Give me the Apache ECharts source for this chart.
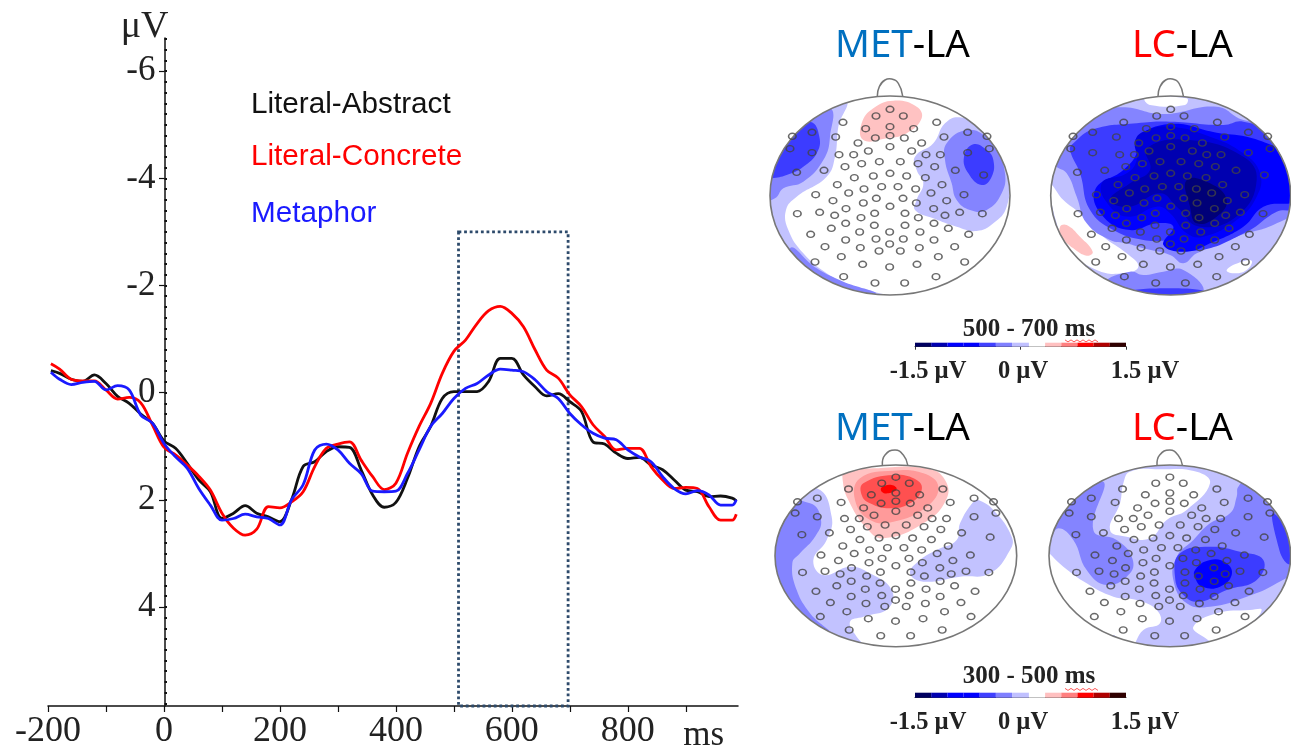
<!DOCTYPE html>
<html>
<head>
<meta charset="utf-8">
<style>html,body{margin:0;padding:0;background:#fff}#c{width:1291px;height:746px}</style>
<script src="https://cdn.jsdelivr.net/npm/echarts@6/dist/echarts.min.js"></script>
</head>
<body>
<div id="c"></div>
<script>
// ---------- ERP waveforms (ms, µV; negative up) ----------
const timeMs = [-195,-180,-160,-140,-120,-100,-80,-60,-40,-20,0,20,40,60,80,100,120,140,160,180,200,220,240,260,280,300,320,340,
  360,380,400,420,440,460,480,500,520,540,560,580,600,620,640,660,680,700,720,740,760,780,800,820,840,860,880,900,920,940,960,980,987];
const literalAbstract = [-0.41,-0.36,-0.25,-0.21,-0.33,-0.17,0.07,0.20,0.40,0.57,0.90,1.04,1.32,1.63,1.85,2.35,2.25,2.11,2.25,2.32,2.41,2.00,1.38,1.29,1.10,1.01,1.02,1.44,
  1.91,2.14,2.05,1.60,1.01,0.63,0.11,-0.02,-0.02,-0.02,-0.21,-0.64,-0.64,-0.33,-0.11,0.06,0.02,0.17,0.35,0.92,0.96,1.13,1.23,1.21,1.35,1.44,1.63,1.82,1.85,1.94,1.93,1.97,2.02];
const literalConcrete = [-0.54,-0.44,-0.25,-0.22,-0.22,-0.05,0.12,0.09,0.19,0.60,1.02,1.16,1.35,1.56,1.82,2.25,2.53,2.66,2.55,2.13,2.15,2.04,1.85,1.38,1.04,0.96,0.92,1.26,
  1.57,1.81,1.69,1.13,0.63,0.20,-0.36,-0.77,-0.98,-1.29,-1.53,-1.61,-1.48,-1.23,-0.80,-0.42,-0.27,0.04,0.26,0.60,0.82,1.07,1.04,1.04,1.38,1.63,1.79,1.77,1.79,2.13,2.38,2.38,2.27];
const metaphor = [-0.38,-0.25,-0.15,-0.19,-0.21,-0.05,-0.13,-0.05,0.42,0.57,0.95,1.20,1.41,1.79,2.10,2.38,2.35,2.27,2.32,2.35,2.47,2.00,1.72,1.07,0.96,1.07,1.32,1.51,
  1.84,1.85,1.84,1.51,1.07,0.63,0.39,0.11,-0.08,-0.17,-0.33,-0.44,-0.42,-0.39,-0.24,-0.02,0.11,0.39,0.60,0.76,0.85,0.88,1.07,1.20,1.29,1.57,1.79,1.89,1.83,1.91,2.10,2.10,2.00];
const windowMs = [508, 697];
const windowUv = [-3, 5.85];
const xLabelTicks = [-200,0,200,400,600,800];
const xAllTicks = [-200,-100,0,100,200,300,400,500,600,700,800,900];
const yLabelTicks = [-6,-4,-2,0,2,4];

// ---------- Topographic maps: electrode sites and contour bands (map-space units) ----------
const electrodes = [[390,298],[348,318],[430,318],[249,337],[530,337],[317,356],[390,350],[461,356],[346,384],[390,377],[433,384],[227,381],[552,381],[97,379],[156,367],[623,367],[681,379],[294,399],[485,399],[390,410],[325,423],[455,423],[90,416],[156,428],[623,428],[688,416],[237,434],[281,434],[498,434],[541,434],[255,470],[305,461],[358,455],[421,455],[474,461],[524,470],[110,487],[192,481],[586,481],[671,495],[283,503],[340,498],[390,490],[440,498],[496,503],[232,524],[312,537],[365,530],[414,530],[467,537],[546,524],[167,554],[266,549],[513,549],[612,554],[219,572],[310,579],[349,565],[429,565],[469,579],[560,572],[112,611],[179,607],[258,596],[390,589],[521,596],[599,607],[667,611],[224,616],[344,610],[435,610],[555,616],[303,623],[475,623],[257,640],[343,646],[435,646],[522,640],[214,655],[565,655],[152,673],[299,666],[389,666],[480,666],[626,673],[257,690],[348,687],[430,687],[522,690],[389,702],[195,710],[301,713],[357,723],[421,723],[478,713],[584,710],[244,740],[535,740],[165,756],[614,756],[308,763],[471,763],[389,771],[251,800],[528,800],[345,819],[434,819]];

const C = {L:'#c2c2ff',M:'#8484ff',B:'#3c3cff',S:'#0000ff',D:'#0000dc',N:'#0000b0',X:'#000078',W:'#ffffff',
           p:'#ffc2c2',q:'#ff9a9a',r:'#ff5050',s:'#ff0000'};

const bandsMetLate = [
  [C.L,[[254,270],[0,270],[0,860],[390,860],[340,845],[270,825],[200,790],[130,730],[85,660],[78,600],[110,560],[200,500],[225,440],[235,350]]],
  [C.M,[[205,290],[0,290],[0,570],[45,565],[70,535],[130,515],[190,450],[210,380]]],
  [C.M,[[90,715],[170,775],[250,815],[345,852],[100,870]]],
  [C.B,[[150,335],[178,380],[170,430],[130,470],[80,495],[35,505],[0,505],[0,335]]],
  [C.L,[[600,322],[555,340],[520,400],[465,440],[470,480],[490,520],[470,570],[465,600],[520,625],[590,650],[650,663],[700,640],[740,590],[745,500],[720,420],[660,350]]],
  [C.M,[[620,360],[560,400],[555,450],[575,520],[590,570],[630,600],[680,600],[725,550],[735,490],[710,420],[680,380]]],
  [C.B,[[640,403],[612,440],[625,490],[665,525],[695,500],[700,450],[680,420]]],
  [C.p,[[400,272],[340,295],[305,340],[310,390],[380,385],[440,370],[485,325],[470,290]]]
];
const bandsLcLate = [
  [C.L,[[40,240],[800,240],[800,870],[40,870]]],
  [C.W,[[345,265],[470,265],[465,285],[360,285]]],
  [C.W,[[62,525],[100,570],[150,610],[220,680],[290,730],[325,770],[280,790],[200,780],[120,720],[80,640]]],
  [C.W,[[590,780],[630,757],[665,752],[650,780],[610,790]]],
  [C.p,[[90,650],[110,645],[150,680],[188,725],[170,737],[130,715],[95,680]]],
  [C.M,[[50,400],[140,320],[270,292],[400,312],[560,290],[640,330],[800,360],[800,590],[740,640],[620,680],[500,730],[460,760],[420,735],[340,715],[290,700],[240,690],[170,640],[140,560],[110,490],[75,465]]],
  [C.M,[[230,815],[300,785],[340,795],[400,785],[460,780],[520,845],[420,870],[300,850]]],
  [C.B,[[300,845],[420,835],[520,845],[420,870]]],
  [C.B,[[120,420],[130,400],[190,358],[320,340],[420,335],[580,345],[640,335],[800,395],[800,590],[740,605],[650,665],[500,722],[430,695],[340,690],[250,660],[180,600],[150,490]]],
  [C.S,[[320,385],[420,342],[560,368],[650,380],[740,410],[800,430],[800,565],[700,590],[640,650],[540,700],[470,725],[400,705],[430,650],[380,640],[300,660],[220,620],[195,540],[280,480],[320,430]]],
  [C.D,[[315,395],[340,365],[420,350],[540,380],[640,430],[690,490],[680,560],[620,630],[520,680],[470,670],[420,610],[380,590],[300,620],[240,590],[215,520],[290,490],[320,450]]],
  [C.N,[[350,415],[480,390],[640,440],[680,510],[625,615],[510,650],[440,590],[390,550],[300,590],[240,570],[300,520],[360,480]]],
  [C.X,[[470,510],[540,520],[590,570],[560,620],[500,640],[480,590]]]
];
const bandsMetEarly = [
  [C.L,[[170,265],[0,265],[0,760],[330,760],[290,710],[270,665],[310,650],[385,625],[395,570],[330,520],[270,500],[190,525],[160,480],[200,420],[215,350]]],
  [C.M,[[150,310],[183,360],[165,410],[120,460],[97,490],[110,570],[150,640],[210,710],[0,740],[0,305]]],
  [C.L,[[640,305],[600,370],[590,420],[530,450],[480,480],[450,520],[490,545],[600,530],[690,520],[750,450],[755,410],[700,330],[655,300]]],
  [C.p,[[255,215],[340,205],[500,205],[555,240],[558,300],[490,370],[370,415],[320,385],[265,300],[248,240]]],
  [C.q,[[300,235],[400,212],[490,220],[535,260],[500,320],[400,365],[330,360],[285,300]]],
  [C.r,[[310,250],[400,225],[470,240],[485,270],[450,310],[390,325],[330,310],[305,285]]],
  [C.s,[[365,262],[395,255],[410,268],[385,280],[365,275]]]
];
const bandsLcEarly = [
  [C.L,[[40,180],[800,180],[800,760],[40,760]]],
  [C.W,[[300,215],[390,208],[500,215],[540,250],[470,330],[410,360],[360,415],[290,410],[240,390],[270,310],[280,250]]],
  [C.W,[[40,450],[100,500],[170,550],[250,590],[320,600],[380,630],[390,670],[340,690],[300,740],[240,720],[130,650],[70,540]]],
  [C.W,[[490,680],[560,640],[660,630],[695,630],[650,680],[560,725],[520,710]]],
  [C.M,[[220,245],[100,330],[60,420],[85,385],[130,420],[170,510],[230,555],[300,520],[305,470],[260,420],[190,390]]],
  [C.M,[[620,290],[600,340],[540,370],[490,420],[440,470],[430,540],[470,610],[540,620],[650,590],[740,550],[800,500],[800,400],[770,300],[660,235],[625,260]]],
  [C.M,[[250,705],[300,735],[400,745],[500,735],[570,725],[480,760],[350,760]]],
  [C.B,[[730,340],[800,440],[800,480],[770,490],[740,420]]],
  [C.B,[[450,460],[540,440],[630,455],[700,480],[680,540],[590,570],[510,605],[460,585],[435,530]]],
  [C.S,[[495,510],[540,480],[590,490],[605,525],[570,560],[520,562],[498,540]]]
];
const noseLate = [[352,258],[358,230],[375,210],[395,207],[415,220],[428,258]];
const noseEarly = [[367,195],[375,165],[405,150],[430,165],[443,195]];

// ---------- Colour bar ----------
const barEdges = [-1.5,-1.27,-1.04,-0.81,-0.58,-0.35,-0.12,0.12,0.35,0.58,0.81,1.04,1.27,1.5];
const barColors = ['#000060','#0000b0','#0000ff','#0000ff','#4040ff','#8080ff','#c0c0ff','#ffffff','#ffc0c0','#ff8080','#ff0000','#b00000','#300000'];
const barTicks = [-1.5,0,1.5];

const serif = '"Liberation Serif","Times New Roman",serif';
const sans = '"Liberation Sans",Arial,sans-serif';
const tickInk = '#222';

const maps = [
  {left:770,  top:96,  w:240,   h:199,   cx:390,   cy:556.5, rx:360,   ry:298.5, dx:0,  bands:bandsMetLate,  nose:noseLate},
  {left:1050.7,top:96, w:240,   h:199,   cx:422,   cy:556.5, rx:360,   ry:298.5, dx:32, bands:bandsLcLate,   nose:noseLate},
  {left:775,  top:465, w:241.7, h:181.7, cx:407.5, cy:467.5, rx:362.5, ry:272.5, dx:0,  bands:bandsMetEarly, nose:noseEarly},
  {left:1049, top:465, w:241.7, h:181.7, cx:419.5, cy:467.5, rx:362.5, ry:272.5, dx:14, bands:bandsLcEarly,  nose:noseEarly}
];
const bars = [{left:915,top:342.7,w:211,h:4,ticks:3},{left:915,top:692.7,w:211,h:5,ticks:0}];

const grid = [{left:48, top:38, width:690, height:668, outerBoundsMode:'none'}];
const xAxis = [{type:'value', min:-200, max:990, gridIndex:0,
  axisLine:{onZero:false, lineStyle:{color:'#111',width:1.5}},
  axisTick:{customValues:xAllTicks, length:6, lineStyle:{color:'#111',width:1.2}},
  axisLabel:{customValues:xLabelTicks, margin:8, fontFamily:serif, fontSize:36, color:tickInk},
  splitLine:{show:false},
  name:'ms', nameLocation:'end', nameGap:-14,
  nameTextStyle:{fontFamily:serif, fontSize:35, color:tickInk, align:'right', verticalAlign:'top', padding:[12,0,0,0]}
}];
const yRange = {min:-6.62, max:5.85};
const yAxisOffset = -116.5;
const dots = []; for (let v=-6.6; v<5.85; v+=0.2) dots.push(Math.round(v*10)/10);
const yAxis = [
 {type:'value', inverse:true, ...yRange, gridIndex:0, position:'left', offset:yAxisOffset,
  axisLine:{onZero:false, lineStyle:{color:'#111',width:1.5}},
  axisTick:{customValues:yLabelTicks, length:5.5, lineStyle:{color:'#111',width:1.2}},
  axisLabel:{customValues:yLabelTicks, margin:9, fontFamily:serif, fontSize:35, color:tickInk},
  splitLine:{show:false},
  name:'\u03bcV', nameLocation:'start', nameGap:-8,
  nameTextStyle:{fontFamily:serif, fontSize:38, color:tickInk, align:'right', verticalAlign:'bottom', padding:[0,-4,0,0]}
 },
 {type:'value', inverse:true, ...yRange, gridIndex:0, position:'left', offset:yAxisOffset,
  axisLine:{show:false, onZero:false},
  axisTick:{inside:true, customValues:dots, length:2.5, lineStyle:{color:'#111',width:2}},
  axisLabel:{show:false}, splitLine:{show:false}
 }
];

const series = [
  {name:'Literal-Abstract', data:literalAbstract, color:'#111111'},
  {name:'Literal-Concrete', data:literalConcrete, color:'#ff0000'},
  {name:'Metaphor', data:metaphor, color:'#1a1aff'}
].map(s => ({
  type:'line', name:s.name, xAxisIndex:0, yAxisIndex:0, showSymbol:false, symbol:'none', smooth:0.35,
  lineStyle:{color:s.color, width:2.8}, itemStyle:{color:s.color},
  data:s.data.map((v,i)=>[timeMs[i],v]), z:3, silent:true
}));
series[0].markArea = {silent:true, itemStyle:{color:'rgba(0,0,0,0)', borderColor:'#2d4a6b', borderWidth:2.8, borderType:'dotted'},
  data:[[{xAxis:windowMs[0], yAxis:windowUv[0]},{xAxis:windowMs[1], yAxis:windowUv[1]}]]};

maps.forEach((m,i)=>{
  grid.push({left:m.left, top:m.top, width:m.w, height:m.h, outerBoundsMode:'none'});
  xAxis.push({type:'value', gridIndex:i+1, show:false, min:m.cx-m.rx, max:m.cx+m.rx});
  yAxis.push({type:'value', gridIndex:i+1, show:false, inverse:true, min:m.cy-m.ry, max:m.cy+m.ry});
  const axisIdx = i+1, yIdx = i+2;
  const rows = m.bands.map((b,k)=>[k]);
  rows.push([m.bands.length]);
  series.push({
    type:'custom', xAxisIndex:axisIdx, yAxisIndex:yIdx, silent:true, z:2,
    data:rows, encode:{x:0},
    renderItem(params, api){
      const k = api.value(0);
      const c = api.coord([m.cx,m.cy]);
      const e = api.coord([m.cx+m.rx,m.cy+m.ry]);
      const clip = {type:'ellipse', shape:{cx:c[0],cy:c[1],rx:e[0]-c[0],ry:e[1]-c[1]}};
      if (k < m.bands.length) {
        return {type:'polygon', shape:{points:m.bands[k][1].map(p=>api.coord(p)), smooth:0.45},
                style:{fill:m.bands[k][0]}, clipPath:clip};
      }
      return {type:'group', children:[
        {type:'ellipse', shape:clip.shape, style:{fill:null, stroke:'#777', lineWidth:1.6}},
        {type:'polyline', shape:{points:m.nose.map(p=>api.coord([p[0]+m.dx,p[1]])), smooth:0.5},
         style:{fill:null, stroke:'#777', lineWidth:1.5}}
      ]};
    }
  });
  series.push({
    type:'scatter', xAxisIndex:axisIdx, yAxisIndex:yIdx, silent:true, z:4,
    symbol:'circle', symbolSize:[7.5,6.2],
    itemStyle:{color:'rgba(0,0,0,0)', borderColor:'#444', borderWidth:1.5},
    data:electrodes.map(p=>[m.cx+(p[0]-390)*m.rx/360, m.cy+(p[1]-556.5)*m.ry/298.5])
  });
});

bars.forEach((b,j)=>{
  const gi = grid.length, xi = xAxis.length, yi = yAxis.length;
  grid.push({left:b.left, top:b.top, width:b.w, height:b.h, outerBoundsMode:'none'});
  xAxis.push({type:'value', gridIndex:gi, min:-1.5, max:1.5,
    axisLine:{onZero:false, lineStyle:{color:'#333',width:1}},
    axisTick:{show:b.ticks>0, customValues:barTicks, length:b.ticks||1, lineStyle:{color:'#333'}},
    axisLabel:{show:false}, splitLine:{show:false}});
  yAxis.push({type:'value', gridIndex:gi, min:0, max:1, show:false});
  series.push({type:'custom', xAxisIndex:xi, yAxisIndex:yi, silent:true, z:2,
    data:barColors.map((c,k)=>[k]), encode:{x:0},
    renderItem(params, api){
      const k = api.value(0);
      const a = api.coord([barEdges[k],1]), z = api.coord([barEdges[k+1],0]);
      return {type:'rect', shape:{x:a[0],y:a[1],width:z[0]-a[0],height:z[1]-a[1]}, style:{fill:barColors[k]}};
    }
  });
});

const headFont = '"Noto Sans",sans-serif';
const head = (text, left, top, rich) => ({text, left, top, padding:0,
  textStyle:{fontFamily:headFont, fontSize:38.5, fontWeight:400, rich}});
const richMet = {a:{color:'#0070c0',fontFamily:headFont,fontSize:38.5}, b:{color:'#000',fontFamily:headFont,fontSize:38.5}};
const richLc  = {a:{color:'#ff0000',fontFamily:headFont,fontSize:38.5}, b:{color:'#000',fontFamily:headFont,fontSize:38.5}};
const heads = [
  head('{a|MET}{b|-LA}', 835, 27, richMet), head('{a|LC}{b|-LA}', 1132, 27, richLc),
  head('{a|MET}{b|-LA}', 835, 410, richMet), head('{a|LC}{b|-LA}', 1132, 410, richLc)
];

const legendRow = (name, color, top) => ({
  data:[name], left:251, top, icon:'none', itemWidth:0, itemHeight:0, padding:0, selectedMode:false,
  textStyle:{fontFamily:sans, fontSize:29.7, color, padding:[0,0,0,-5]}
});
const legend = [legendRow('Literal-Abstract','#111',90), legendRow('Literal-Concrete','#ff0000',142), legendRow('Metaphor','#1a1aff',199)];

const barLabels = (yTitle, yLab, txt, ySq) => {
  const sq = []; for (let i=0;i<=11;i++) sq.push([1065+i*3, ySq+(i%2?1.4:-0.6)]);
  const lab = (x,s) => ({type:'text', x, y:yLab, z:5, style:{text:s, font:'bold 24.5px '+serif, fill:'#222', align:'center', verticalAlign:'middle'}});
  return [
    {type:'text', x:1029, y:yTitle, z:5, style:{text:txt, font:'bold 25px '+serif, fill:'#222', align:'center', verticalAlign:'middle'}},
    lab(928,'-1.5 \u00b5V'), lab(1023,'0 \u00b5V'), lab(1145,'1.5 \u00b5V'),
    {type:'polyline', z:5, shape:{points:sq}, style:{fill:null, stroke:'#ff5a5a', lineWidth:1}}
  ];
};

const chart = echarts.init(document.getElementById('c'), null, {renderer:'canvas'});
chart.setOption({
  animation:false, backgroundColor:'#fff',
  title:heads, legend, grid, xAxis, yAxis, series,
  graphic:[...barLabels(330,372,'500 - 700 ms',340.5), ...barLabels(677,723,'300 - 500 ms',689)]
});
</script>
</body>
</html>
